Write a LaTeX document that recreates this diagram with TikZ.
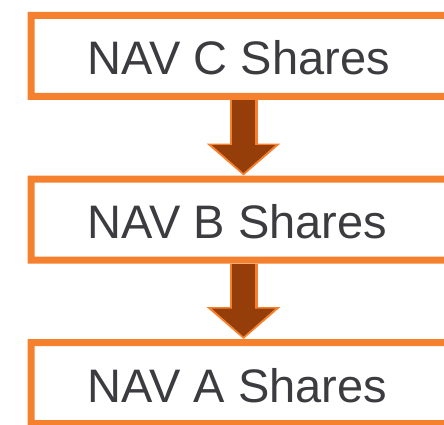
\documentclass[tikz,border=0pt]{standalone}
\usepackage{fontspec}
\setmainfont{Liberation Sans}
\usetikzlibrary{positioning,arrows.meta}
\definecolor{navorange}{RGB}{245,128,45}
\definecolor{navbrown}{RGB}{150,62,10}
\definecolor{navtext}{RGB}{60,60,64}

\begin{document}
\begin{tikzpicture}[x=1pt, y=1pt,
  sharebox/.style={minimum height=88pt, minimum width=424pt, inner sep=0pt,
    outer sep=0pt, anchor=north west},
  sharetext/.style={anchor=base west, text=navtext, inner sep=0pt,
    font=\fontsize{47}{51}\selectfont},
  boxframe/.style={fill=navorange, even odd rule},
  arrowrim/.style={navorange, line width=28pt, -{Triangle[length=32pt,width=72pt]}},
  arrowcore/.style={navbrown, line width=23pt, shorten >=2.5pt, -{Triangle[length=28pt,width=62pt]}}]
\fill[white] (0,0) rectangle (444,-425);
\clip (0,0) rectangle (444,-425);
%
\node[sharebox] (navc) at (27.5,-12) {};
\node[sharebox, below=75.5pt of navc] (navb) {};
\node[sharebox, below=75.5pt of navb] (nava) {};
\foreach \n in {navc,navb,nava}
  \path[boxframe] (\n.north west) rectangle (\n.south east)
    ([shift={(7pt,-7pt)}]\n.north west) rectangle ([shift={(-7pt,7pt)}]\n.south east);
%
\node[sharetext] at ([xshift=60pt,yshift=-19pt]navc.west) {NAV C Shares};
\node[sharetext] at ([xshift=60pt,yshift=-19pt]navb.west) {NAV B Shares};
\node[sharetext] at ([xshift=60pt,yshift=-19pt]nava.west) {NAV A Shares};
%
\coordinate (ax) at (243.5,0);
\foreach \from/\to in {navc/navb, navb/nava}{
  \draw[arrowrim] (\from.south -| ax) -- (\to.north -| ax);
  \draw[arrowcore] (\from.south -| ax) -- (\to.north -| ax);
}
\end{tikzpicture}
\end{document}
